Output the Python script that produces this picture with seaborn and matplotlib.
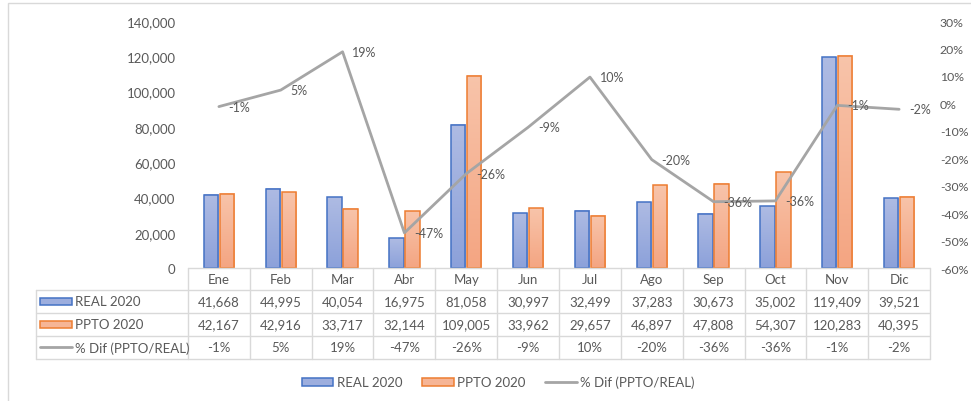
import numpy as np
import pandas as pd
import seaborn as sns
import matplotlib.pyplot as plt
from matplotlib.patches import Rectangle, Patch
from matplotlib.lines import Line2D
from matplotlib.colors import LinearSegmentedColormap
from matplotlib.ticker import FuncFormatter
from matplotlib.transforms import blended_transform_factory

months = ['Ene', 'Feb', 'Mar', 'Abr', 'May', 'Jun', 'Jul', 'Ago', 'Sep', 'Oct', 'Nov', 'Dic']
real_2020 = [41668, 44995, 40054, 16975, 81058, 30997, 32499, 37283, 30673, 35002, 119409, 39521]
ppto_2020 = [42167, 42916, 33717, 32144, 109005, 33962, 29657, 46897, 47808, 54307, 120283, 40395]
pct_dif = [-0.0118, 0.0484, 0.1879, -0.4719, -0.2564, -0.0873, 0.0958, -0.2050, -0.3584, -0.3555, -0.0073, -0.0216]
series_names = ['REAL 2020', 'PPTO 2020']
line_name = '% Dif (PPTO/REAL)'

edge_colors = ['#4472C4', '#ED7D31']
grad_colors = [('#AEBBE3', '#8CA1DA'), ('#F8C4AA', '#F4A582')]
mid_colors = ['#9DAEDE', '#F6B596']
line_color = '#A5A5A5'
text_color = '#595959'
grid_color = '#D9D9D9'
fs = 9.5

sns.set_theme(style='white')
plt.rcParams['font.family'] = ['Lato', 'DejaVu Sans']

df = pd.DataFrame({
    'Mes': months * 2,
    'Serie': [series_names[0]] * len(months) + [series_names[1]] * len(months),
    'Valor': real_2020 + ppto_2020,
})

fig = plt.figure(figsize=(9.71, 4.02), dpi=100)
ax = fig.add_axes([0.1936, 0.3308, 0.7642, 0.6144])

sns.barplot(data=df, x='Mes', y='Valor', hue='Serie', palette=mid_colors,
            width=0.52, gap=0.11, legend=False, ax=ax, linewidth=1.1)

# gradient fill like the Excel bars
for cont, (top, bottom), ec in zip(ax.containers, grad_colors, edge_colors):
    cmap = LinearSegmentedColormap.from_list('g', [top, bottom])
    for bar in cont:
        x0, w, h = bar.get_x(), bar.get_width(), bar.get_height()
        ax.imshow(np.linspace(0, 1, 128).reshape(-1, 1), extent=[x0, x0 + w, 0, h],
                  cmap=cmap, aspect='auto', zorder=0.9)
        bar.set_facecolor('none')
        bar.set_edgecolor(ec)

ax.set_xlim(-0.5, len(months) - 0.5)
ax.set_ylim(0, 140000)
ax.set_yticks(np.arange(0, 140001, 20000))
ax.yaxis.set_major_formatter(FuncFormatter(lambda v, _: f'{v:,.0f}'))
ax.set_xlabel('')
ax.set_ylabel('')
ax.tick_params(axis='x', length=0, labelbottom=False)
ax.tick_params(axis='y', length=0, pad=9, labelcolor=text_color, labelsize=fs)
for s in ax.spines.values():
    s.set_visible(False)

ax2 = ax.twinx()
xpos = np.arange(len(months))
sns.lineplot(x=xpos, y=pct_dif, color=line_color, linewidth=2, ax=ax2)
for i, v in enumerate(pct_dif):
    ax2.annotate(f'{v * 100:.0f}%', (xpos[i], v), xytext=(7, 0), textcoords='offset points',
                 ha='left', va='center', color=text_color, fontsize=fs - 0.5)
ax2.set_ylim(-0.6, 0.3)
ax2.set_xlim(-0.5, len(months) - 0.5)
rticks = np.round(np.arange(-0.6, 0.31, 0.1), 1)
ax2.set_yticks(rticks)
ax2.yaxis.set_major_formatter(FuncFormatter(lambda v, _: f'{int(round(v * 100))}%'))
ax2.tick_params(axis='y', length=0, pad=7, labelcolor=text_color, labelsize=fs - 0.7)
for s in ax2.spines.values():
    s.set_visible(False)

# data table under the plot
trans = blended_transform_factory(ax.transData, ax.transAxes)
rows = [0, -0.089, -0.182, -0.275, -0.368]
left_col = -0.205
n = len(months)

ax.plot([-0.5, n - 0.5], [rows[0], rows[0]], transform=trans, color=grid_color, lw=1, clip_on=False)
for y in rows[1:]:
    ax.plot([left_col, 1], [y, y], transform=ax.transAxes, color=grid_color, lw=1, clip_on=False)
for k in range(n + 1):
    ax.plot([k - 0.5, k - 0.5], [rows[0], rows[-1]], transform=trans, color=grid_color, lw=1, clip_on=False)
ax.plot([left_col, left_col], [rows[1], rows[-1]], transform=ax.transAxes, color=grid_color, lw=1, clip_on=False)

mids = [(rows[j] + rows[j + 1]) / 2 for j in range(4)]
for i, m in enumerate(months):
    ax.text(i, mids[0], m, transform=trans, ha='center', va='center', color=text_color, fontsize=fs, clip_on=False)
    ax.text(i, mids[1], f'{real_2020[i]:,}', transform=trans, ha='center', va='center', color=text_color, fontsize=fs, clip_on=False)
    ax.text(i, mids[2], f'{ppto_2020[i]:,}', transform=trans, ha='center', va='center', color=text_color, fontsize=fs, clip_on=False)
    ax.text(i, mids[3], f'{pct_dif[i] * 100:.0f}%', transform=trans, ha='center', va='center', color=text_color, fontsize=fs, clip_on=False)

key_x, key_w, key_h = -0.1995, 0.0431, 0.032
for j, (name, fc, ec) in enumerate(zip(series_names, mid_colors, edge_colors)):
    ax.add_patch(Rectangle((key_x, mids[j + 1] - key_h / 2), key_w, key_h, transform=ax.transAxes,
                           facecolor=fc, edgecolor=ec, lw=1.1, clip_on=False))
    ax.text(key_x + key_w + 0.004, mids[j + 1], name, transform=ax.transAxes, ha='left', va='center',
            color=text_color, fontsize=fs, clip_on=False)
ax.plot([key_x, key_x + key_w], [mids[3], mids[3]], transform=ax.transAxes, color=line_color, lw=2, clip_on=False)
ax.text(key_x + key_w + 0.004, mids[3], line_name, transform=ax.transAxes, ha='left', va='center',
        color=text_color, fontsize=fs, clip_on=False)

handles = [Patch(facecolor=mid_colors[0], edgecolor=edge_colors[0], lw=1.1),
           Patch(facecolor=mid_colors[1], edgecolor=edge_colors[1], lw=1.1),
           Line2D([], [], color=line_color, lw=2)]
fig.legend(handles, series_names + [line_name], loc='center', bbox_to_anchor=(0.513, 0.047), ncol=3,
           frameon=False, fontsize=fs, labelcolor=text_color, handlelength=2.4, handleheight=0.6,
           handletextpad=0.25, columnspacing=1.5)

fig.patches.append(Rectangle((0.0082, -0.05), 1.1, 1.04, transform=fig.transFigure,
                             fill=False, edgecolor=grid_color, lw=1))

fig.savefig('out.png', dpi=100)
